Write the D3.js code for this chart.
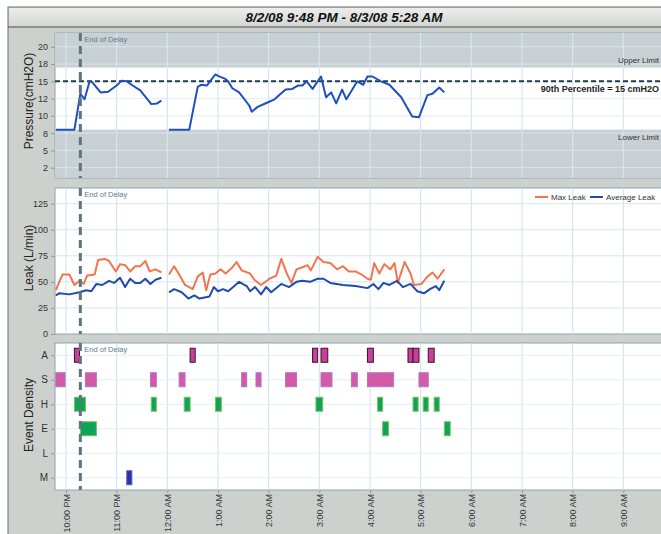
<!DOCTYPE html>
<html>
<head>
<meta charset="utf-8">
<script src="https://cdn.jsdelivr.net/npm/d3@7"></script>
<style>
body { margin: 0; background: #fff; }
text { font-family: "Liberation Sans", Arial, sans-serif; }
</style>
</head>
<body>
<script>
// ---- data ----
var title = "8/2/08 9:48 PM - 8/3/08 5:28 AM"
var endOfDelay = "22:17"
var upperLimit = 17, lowerLimit = 8, percentile90 = 15

var pressureTicks = [20, 17.5, 15, 12.5, 10, 7.5, 5, 2.5]
var pressureTickLabels = ["20", "18", "15", "12", "10", "8", "5", "2"]
var leakTicks = [0, 25, 50, 75, 100, 125]
var hourTicks = ["22:00", "23:00", "00:00", "01:00", "02:00", "03:00", "04:00", "05:00", "06:00", "07:00", "08:00", "09:00"]
var eventRows = ["A", "S", "H", "E", "L", "M"]

// pressure, two recording segments
var pressure1 = [["21:48",8],["22:10",8],["22:17",13.2],["22:22",12.4],["22:28",15.0],["22:31",14.9],["22:41",13.4],["22:50",13.5],["23:00",14.4],["23:06",15.1],["23:12",15.0],["23:19",14.4],["23:28",13.7],["23:41",11.7],["23:48",11.8],["23:53",12.2]]
var pressure2 = [["00:02",8],["00:26",8],["00:36",14.2],["00:40",14.5],["00:47",14.4],["00:53",15.4],["00:57",16.0],["01:00",15.8],["01:08",15.4],["01:12",15.0],["01:17",14.0],["01:25",13.4],["01:37",11.5],["01:40",10.6],["01:47",11.3],["01:58",11.9],["02:07",12.4],["02:20",13.8],["02:28",13.9],["02:35",14.4],["02:40",14.4],["02:45",15.0],["02:52",13.9],["03:02",15.7],["03:08",12.7],["03:14",13.4],["03:20",11.8],["03:27",13.8],["03:32",12.4],["03:45",15.0],["03:52",14.5],["03:57",15.7],["04:03",15.7],["04:13",15.0],["04:23",14.5],["04:37",12.7],["04:50",9.9],["04:58",9.8],["05:08",13.0],["05:14",13.2],["05:22",14.1],["05:28",13.4]]

// leak
var maxLeak1 = [["21:48",42],["21:52",50],["21:56",57],["22:04",57],["22:10",47],["22:16",51],["22:21",48],["22:25",56],["22:34",57],["22:38",71],["22:46",72],["22:51",70],["22:59",60],["23:04",67],["23:10",66],["23:16",60],["23:22",65],["23:28",65],["23:34",70],["23:39",60],["23:46",62],["23:53",59]]
var maxLeak2 = [["00:02",57],["00:08",65],["00:14",57],["00:21",47],["00:30",43],["00:36",55],["00:42",59],["00:46",42],["00:51",57],["00:57",58],["01:03",62],["01:09",58],["01:16",63],["01:22",69],["01:28",61],["01:38",58],["01:43",52],["01:51",47],["02:01",53],["02:09",56],["02:15",72],["02:22",57],["02:27",49],["02:33",62],["02:40",64],["02:46",66],["02:50",61],["02:58",74],["03:05",69],["03:13",68],["03:21",62],["03:28",65],["03:35",60],["03:43",60],["03:50",57],["03:57",53],["04:01",52],["04:05",68],["04:11",58],["04:17",67],["04:24",62],["04:29",68],["04:33",49],["04:41",69],["04:48",58],["04:52",47],["05:01",48],["05:08",55],["05:14",59],["05:20",53],["05:28",62]]
var avgLeak1 = [["21:48",37],["21:52",39],["22:04",38],["22:16",40],["22:24",42],["22:30",41],["22:36",48],["22:43",47],["22:51",51],["22:57",49],["23:04",54],["23:10",45],["23:16",53],["23:22",49],["23:28",49],["23:34",53],["23:40",48],["23:46",52],["23:53",54]]
var avgLeak2 = [["00:02",40],["00:08",43],["00:17",40],["00:25",34],["00:32",37],["00:38",34],["00:44",35],["00:50",36],["00:55",45],["01:00",41],["01:06",43],["01:12",41],["01:18",45],["01:25",50],["01:34",46],["01:38",41],["01:44",45],["01:51",38],["01:57",45],["02:03",40],["02:15",48],["02:24",45],["02:33",50],["02:40",51],["02:49",50],["02:58",53],["03:05",53],["03:13",49],["03:28",47],["03:43",46],["03:57",44],["04:04",48],["04:10",43],["04:16",49],["04:23",47],["04:32",51],["04:39",45],["04:48",48],["04:56",41],["05:04",39],["05:11",43],["05:18",46],["05:22",42],["05:28",51]]

// events: [row, start, end]
var events = [
  ["A","22:10","22:16"],["A","00:27","00:33"],["A","02:52","02:58"],["A","03:02","03:10"],["A","03:57","04:04"],["A","04:45","04:51"],["A","04:51","04:58"],["A","05:09","05:16"],
  ["S","21:48","21:59"],["S","22:23","22:36"],["S","23:40","23:47"],["S","00:14","00:21"],["S","01:28","01:34"],["S","01:45","01:51"],["S","02:20","02:33"],["S","03:02","03:15"],["S","03:38","03:45"],["S","03:57","04:28"],["S","04:58","05:09"],
  ["H","22:10","22:23"],["H","23:41","23:47"],["H","00:20","00:27"],["H","00:57","01:04"],["H","02:56","03:04"],["H","04:09","04:15"],["H","04:51","04:57"],["H","05:03","05:09"],["H","05:16","05:22"],
  ["E","22:17","22:36"],["E","04:15","04:22"],["E","05:28","05:35"],
  ["M","23:12","23:18"]
]
var eventFill = {A: "#c8409a", S: "#d45aa8", H: "#0ea456", E: "#0ea456", L: "#0ea456", M: "#2634a4"}
var eventStroke = {A: "#3a1030", S: "#a878c8", H: "#7cc060", E: "#7cc060", L: "#7cc060", M: "#5060c0"}

// ---- helpers ----
var parse = d3.timeParse("%Y-%m-%d %H:%M")
function t(s) {
  var h = +s.slice(0, 2)
  return parse((h >= 12 ? "2008-08-02 " : "2008-08-03 ") + s)
}

var W = 661, H = 534
var left = 55
var svg = d3.select("body").append("svg").attr("width", W).attr("height", H)

// time scale, shared by the three panels
var x = d3.scaleTime().domain([t("21:47"), t("10:00")]).range([left, 674])

// panels
var p1 = {top: 33, bottom: 178}
var p2 = {top: 188, bottom: 334}
var p3 = {top: 343, bottom: 490}

var yP = d3.scaleLinear().domain([1, 22]).range([p1.bottom, p1.top])
var yL = d3.scaleLinear().domain([0, 140]).range([p2.bottom, p2.top])
var yE = d3.scalePoint().domain(eventRows).range([p3.top, p3.bottom]).padding(0.5)

// outer frame + title bar
svg.append("rect").attr("x", 8).attr("y", 7).attr("width", W).attr("height", H).attr("fill", "#cdd1ce").attr("stroke", "#6a6e6c")
var grad = svg.append("defs").append("linearGradient").attr("id", "tb").attr("x1", 0).attr("x2", 0).attr("y1", 0).attr("y2", 1)
grad.append("stop").attr("offset", 0).attr("stop-color", "#eceeec")
grad.append("stop").attr("offset", 1).attr("stop-color", "#d2d5d3")
svg.append("rect").attr("x", 9).attr("y", 8).attr("width", W).attr("height", 19).attr("fill", "url(#tb)")
svg.append("line").attr("x1", 8).attr("x2", W).attr("y1", 27).attr("y2", 27).attr("stroke", "#4a4e4c").attr("stroke-width", 1.2)
svg.append("text").attr("x", 344).attr("y", 22).attr("text-anchor", "middle")
  .attr("font-size", 13.5).attr("font-weight", "bold").attr("font-style", "italic").attr("fill", "#111").text(title)

svg.append("defs").append("clipPath").attr("id", "clip")
  .append("rect").attr("x", left).attr("y", 0).attr("width", W - left).attr("height", H)

var panels = [p1, p2, p3]
panels.forEach(function(p) {
  svg.append("rect").attr("x", left).attr("y", p.top).attr("width", W - left + 2).attr("height", p.bottom - p.top)
    .attr("fill", "#fff").attr("stroke", "#8ea2b2")
})

// pressure limit bands
svg.append("rect").attr("x", left).attr("width", W - left).attr("y", p1.top).attr("height", yP(upperLimit) - p1.top).attr("fill", "#c9d0d4")
svg.append("rect").attr("x", left).attr("width", W - left).attr("y", yP(lowerLimit)).attr("height", p1.bottom - yP(lowerLimit)).attr("fill", "#c9d0d4")

// grid lines
var hours = hourTicks.map(t)
panels.forEach(function(p) {
  svg.append("g").selectAll("line").data(hours).enter().append("line")
    .attr("x1", function(d) { return x(d) }).attr("x2", function(d) { return x(d) })
    .attr("y1", p.top).attr("y2", p.bottom).attr("stroke", "#d4e6f4").attr("stroke-width", 1.2)
})
svg.append("g").selectAll("line").data(pressureTicks).enter().append("line")
  .attr("x1", left).attr("x2", W).attr("y1", function(d) { return yP(d) }).attr("y2", function(d) { return yP(d) })
  .attr("stroke", "#dbe8f2").attr("stroke-width", 0.8)
svg.append("g").selectAll("line").data(leakTicks.slice(1)).enter().append("line")
  .attr("x1", left).attr("x2", W).attr("y1", function(d) { return yL(d) }).attr("y2", function(d) { return yL(d) })
  .attr("stroke", "#d4e6f4").attr("stroke-width", 1)
svg.append("g").selectAll("line").data(eventRows).enter().append("line")
  .attr("x1", left).attr("x2", W).attr("y1", function(d) { return yE(d) }).attr("y2", function(d) { return yE(d) })
  .attr("stroke", "#e4eef6").attr("stroke-width", 1)

// y axes
function styleAxis(g) {
  g.select(".domain").remove()
  g.selectAll(".tick line").attr("stroke", "#8a9aa6")
  g.selectAll("text").attr("fill", "#333").attr("font-size", 9).style("font-family", "Liberation Sans, Arial")
}
svg.append("g").attr("transform", "translate(" + left + ",0)")
  .call(d3.axisLeft(yP).tickValues(pressureTicks).tickSize(4).tickPadding(3).tickFormat(function(d, i) { return pressureTickLabels[i] }))
  .call(styleAxis)
svg.append("g").attr("transform", "translate(" + left + ",0)")
  .call(d3.axisLeft(yL).tickValues(leakTicks).tickSize(4).tickPadding(3)).call(styleAxis)
svg.append("g").attr("transform", "translate(" + left + ",0)")
  .call(d3.axisLeft(yE).tickSize(4).tickPadding(3)).call(styleAxis)
  .selectAll("text").attr("font-size", 10)

// x axis
var xAxis = svg.append("g").attr("transform", "translate(0," + p3.bottom + ")")
  .call(d3.axisBottom(x).tickValues(hours).tickSize(3).tickFormat(d3.timeFormat("%-I:%M %p")))
xAxis.select(".domain").remove()
xAxis.selectAll(".tick line").attr("stroke", "#8a9aa6")
xAxis.selectAll("text").attr("transform", "rotate(-90)").attr("x", -4).attr("y", 0).attr("dy", "0.35em")
  .attr("text-anchor", "end").attr("fill", "#333").attr("font-size", 9).style("font-family", "Liberation Sans, Arial")

// axis titles
function yTitle(txt, cy) {
  svg.append("text").attr("transform", "translate(33," + cy + ") rotate(-90)").attr("text-anchor", "middle")
    .attr("font-size", 12).attr("fill", "#222").text(txt)
}
yTitle("Pressure(cmH2O)", 101)
yTitle("Leak (L/min)", 258)
yTitle("Event Density", 415)

var plot = svg.append("g").attr("clip-path", "url(#clip)")

// 90th percentile line and labels
plot.append("line").attr("x1", left).attr("x2", W).attr("y1", yP(percentile90)).attr("y2", yP(percentile90))
  .attr("stroke", "#1e3c48").attr("stroke-width", 2).attr("stroke-dasharray", "5,3")
plot.append("text").attr("x", 659).attr("y", yP(upperLimit) - 5).attr("text-anchor", "end").attr("font-size", 8).attr("fill", "#333").text("Upper Limit")
plot.append("text").attr("x", 659).attr("y", yP(lowerLimit) + 10).attr("text-anchor", "end").attr("font-size", 8).attr("fill", "#333").text("Lower Limit")
plot.append("text").attr("x", 659).attr("y", yP(percentile90) + 11).attr("text-anchor", "end").attr("font-size", 9)
  .attr("font-weight", "bold").attr("fill", "#222").text("90th Percentile = " + percentile90 + " cmH2O")

// lines
var line = d3.line().x(function(d) { return x(t(d[0])) })
function drawLine(data, y, color) {
  plot.append("path").datum(data).attr("fill", "none").attr("stroke", color).attr("stroke-width", 2)
    .attr("stroke-linejoin", "round").attr("d", line.y(function(d) { return y(d[1]) }))
}
drawLine(pressure1, yP, "#1f4fbf")
drawLine(pressure2, yP, "#1f4fbf")
drawLine(maxLeak1, yL, "#f2754e")
drawLine(maxLeak2, yL, "#f2754e")
drawLine(avgLeak1, yL, "#1f4bb0")
drawLine(avgLeak2, yL, "#1f4bb0")

// legend
var lg = svg.append("g").attr("font-size", 8).attr("fill", "#333")
lg.append("line").attr("x1", 535).attr("x2", 548).attr("y1", 197).attr("y2", 197).attr("stroke", "#f2754e").attr("stroke-width", 2)
lg.append("text").attr("x", 551).attr("y", 200).text("Max Leak")
lg.append("line").attr("x1", 590).attr("x2", 603).attr("y1", 197).attr("y2", 197).attr("stroke", "#1f4bb0").attr("stroke-width", 2)
lg.append("text").attr("x", 606).attr("y", 200).text("Average Leak")

// event density boxes
plot.append("g").selectAll("rect").data(events).enter().append("rect")
  .attr("x", function(d) { return x(t(d[1])) })
  .attr("width", function(d) { return x(t(d[2])) - x(t(d[1])) })
  .attr("y", function(d) { return yE(d[0]) - 7 })
  .attr("height", 14)
  .attr("fill", function(d) { return eventFill[d[0]] })
  .attr("stroke", function(d) { return eventStroke[d[0]] })
  .attr("stroke-width", 1)

// end of delay markers
panels.forEach(function(p) {
  svg.append("line").attr("x1", x(t(endOfDelay))).attr("x2", x(t(endOfDelay)))
    .attr("y1", p.top).attr("y2", p.bottom).attr("stroke", "#5d7482").attr("stroke-width", 3).attr("stroke-dasharray", "8,5")
  svg.append("text").attr("x", x(t(endOfDelay)) + 4).attr("y", p.top + 9).attr("font-size", 7.5).attr("fill", "#5a7c8c").text("End of Delay")
})
</script>
</body>
</html>
